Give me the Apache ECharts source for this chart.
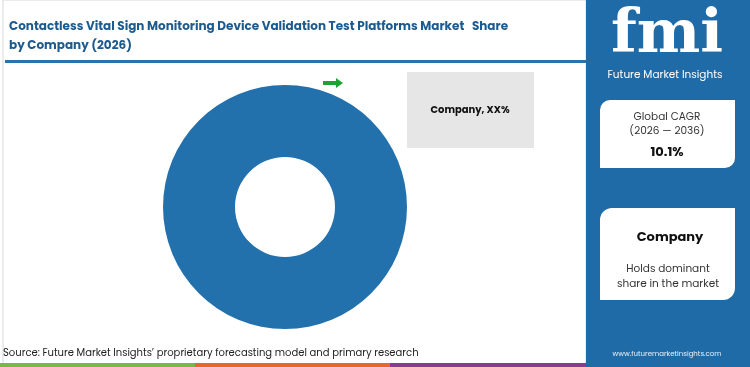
<!DOCTYPE html>
<html><head><meta charset="utf-8">
<script src="https://cdn.jsdelivr.net/npm/echarts@6/dist/echarts.min.js"></script>
<style>html,body{margin:0;padding:0;background:#fff}#c{width:750px;height:367px}</style>
</head><body><div id="c"></div>
<script>
const categories = ['Company'];
const shareValues = [100];
const titleLines = ['Contactless Vital Sign Monitoring Device Validation Test Platforms Market   Share', 'by Company (2026)'];
const cagrText = ['Global CAGR', '(2026 — 2036)', '10.1%'];
const leaderText = ['Company', 'Holds dominant', 'share in the market'];
const calloutLabel = 'Company, XX%';
const sourceText = 'Source: Future Market Insights’ proprietary forecasting model and primary research';

const chart = echarts.init(document.getElementById('c'), null, {renderer: 'canvas'});
const blue = '#1f6ba7';
const font = 'Poppins, "Open Sans", Inter, sans-serif';
function txt(x, y, text, f, fill, align) {
  return {type: 'text', x: x, y: y, style: {text: text, fill: fill, font: f, align: align || 'left', verticalAlign: 'middle'}};
}
chart.setOption({
  animation: false,
  series: [{
    type: 'pie',
    center: [285, 207],
    radius: [50, 122],
    label: {show: false},
    labelLine: {show: false},
    silent: true,
    itemStyle: {color: '#2271ad'},
    data: categories.map((c, i) => ({name: c, value: shareValues[i]}))
  }],
  graphic: [
    {type: 'rect', shape: {x: 3, y: 0, width: 583, height: 367}, style: {fill: '#fff', stroke: '#d8d8d8', lineWidth: 1}, z: -10},
    txt(9, 27, titleLines[0], 'bold 12px ' + font, '#1d5a8e'),
    txt(9, 46, titleLines[1], 'bold 12px ' + font, '#1d5a8e'),
    {type: 'rect', shape: {x: 5, y: 60, width: 581, height: 3}, style: {fill: '#2a73ad'}},
    {type: 'rect', shape: {x: 586, y: 0, width: 164, height: 367}, style: {fill: blue}},
    txt(667, 36, 'fmi', 'bold 60px "DejaVu Serif", serif', '#fff', 'center'),
    txt(665, 75, 'Future Market Insights', '10.5px ' + font, '#fff', 'center'),
    {type: 'rect', shape: {x: 600, y: 100, width: 135, height: 68, r: [10, 0, 10, 0]}, style: {fill: '#fff'}},
    txt(667, 117, cagrText[0], '10.5px ' + font, '#333', 'center'),
    txt(667, 131, cagrText[1], '10.5px ' + font, '#333', 'center'),
    txt(667, 153, cagrText[2], 'bold 13px ' + font, '#111', 'center'),
    {type: 'rect', shape: {x: 600, y: 208, width: 135, height: 92, r: [12, 0, 12, 0]}, style: {fill: '#fff'}},
    txt(670, 238, leaderText[0], 'bold 13px ' + font, '#111', 'center'),
    txt(668, 269, leaderText[1], '10.5px ' + font, '#333', 'center'),
    txt(668, 284, leaderText[2], '10.5px ' + font, '#333', 'center'),
    txt(667, 354, 'www.futuremarketinsights.com', '7px ' + font, '#e8f0f8', 'center'),
    {type: 'rect', shape: {x: 407, y: 72, width: 127, height: 76}, style: {fill: '#e6e6e6'}},
    txt(470, 110, calloutLabel, 'bold 10px ' + font, '#111', 'center'),
    {type: 'polygon', shape: {points: [[323, 81], [336, 81], [336, 78], [343, 83], [336, 88], [336, 85], [323, 85]]}, style: {fill: '#1aa532'}},
    txt(3, 353, sourceText, '10px ' + font, '#222'),
    {type: 'rect', shape: {x: 0, y: 363, width: 195, height: 4}, style: {fill: '#7ab648'}},
    {type: 'rect', shape: {x: 195, y: 363, width: 195, height: 4}, style: {fill: '#e4672b'}},
    {type: 'rect', shape: {x: 390, y: 363, width: 196, height: 4}, style: {fill: '#8b3a93'}}
  ]
});
</script></body></html>
